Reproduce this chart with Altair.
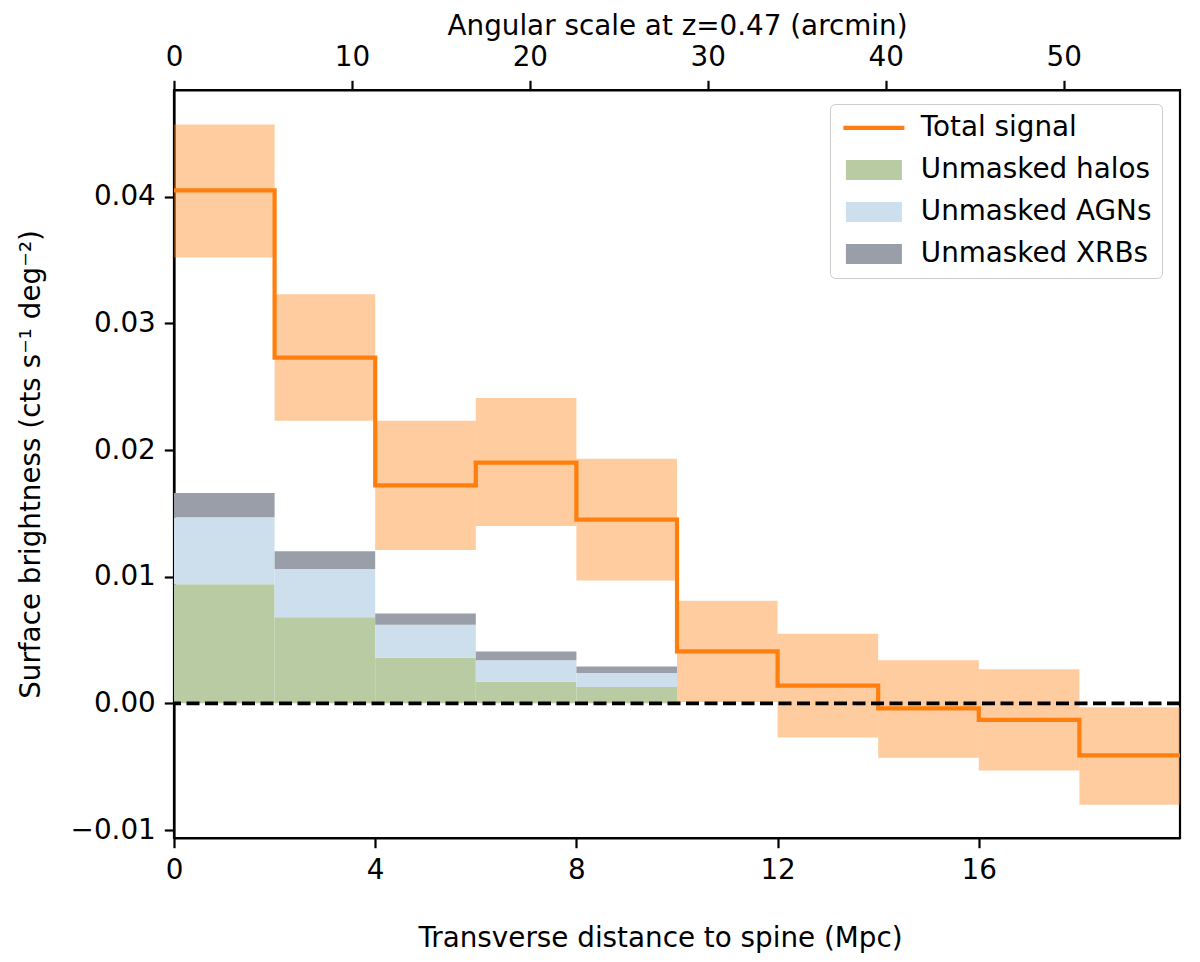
import altair as alt
import pandas as pd

# bins in transverse distance (Mpc)
bin_lo = [0, 2, 4, 6, 8, 10, 12, 14, 16, 18]
bin_hi = [2, 4, 6, 8, 10, 12, 14, 16, 18, 20]

# total signal and its 1-sigma band
total = [0.0405, 0.0273, 0.0172, 0.0190, 0.0145, 0.0041, 0.0014, -0.0004, -0.0013, -0.0041]
total_lo = [0.0352, 0.0223, 0.0121, 0.0140, 0.0097, 0.0001, -0.0027, -0.0043, -0.0053, -0.0080]
total_hi = [0.0457, 0.0323, 0.0223, 0.0241, 0.0193, 0.0081, 0.0055, 0.0034, 0.0027, -0.0003]

# stacked contributions of unmasked sources
halos = [0.0094, 0.0068, 0.0036, 0.0017, 0.0013, 0, 0, 0, 0, 0]
agns = [0.0053, 0.0038, 0.0026, 0.0017, 0.0011, 0, 0, 0, 0, 0]
xrbs = [0.0019, 0.0014, 0.0009, 0.0007, 0.0005, 0, 0, 0, 0, 0]

arcmin_per_mpc = 2.827
top_ticks = [0, 10, 20, 30, 40, 50]
x_ticks = [0, 4, 8, 12, 16]
y_ticks = [-0.01, 0.0, 0.01, 0.02, 0.03, 0.04]
zero_level = [0.0]

series = ["Total signal", "Unmasked halos", "Unmasked AGNs", "Unmasked XRBs"]
colors = ["#ff7f0e", "#b8cba3", "#cddfec", "#9a9ea9"]
shapes = [
    "M-3.05,-0.21H3.05V0.21H-3.05Z",
    "M-2.8,-1H2.8V1H-2.8Z",
    "M-2.8,-1H2.8V1H-2.8Z",
    "M-2.8,-1H2.8V1H-2.8Z",
]

FS = 27.8
X_MAX = 20
Y_DOM = [-0.01063, 0.04842]

band_df = pd.DataFrame({"lo": bin_lo, "hi": bin_hi, "ylo": total_lo, "yhi": total_hi})
line_df = pd.DataFrame({"x": bin_lo + [X_MAX], "y": total + [total[-1]]})

rows = []
for i in range(len(bin_lo)):
    base = 0.0
    for name, vals in zip(series[1:], [halos, agns, xrbs]):
        rows.append({"lo": bin_lo[i], "hi": bin_hi[i], "series": name,
                     "y0": base, "y1": base + vals[i]})
        base += vals[i]
comp_df = pd.DataFrame(rows)

xs = alt.Scale(domain=[0, X_MAX], nice=False, zero=False)
ys = alt.Scale(domain=Y_DOM, nice=False, zero=False)

x_axis = alt.Axis(values=x_ticks, format="d", title="Transverse distance to spine (Mpc)",
                  titlePadding=40, titleX=486)
y_axis = alt.Axis(values=y_ticks, title="Surface brightness (cts s\u207b\u00b9 deg\u207b\u00b2)",
                  labelExpr="replace(format(datum.value, '.2f'), '-', '\u2212')",
                  titlePadding=25)

bands = alt.Chart(band_df).mark_rect(color="#ff7f0e", opacity=0.4).encode(
    x=alt.X("lo:Q", scale=xs, axis=x_axis),
    x2="hi:Q",
    y=alt.Y("ylo:Q", scale=ys, axis=y_axis),
    y2="yhi:Q",
)

comps = alt.Chart(comp_df).mark_rect().encode(
    x=alt.X("lo:Q", scale=xs),
    x2="hi:Q",
    y=alt.Y("y0:Q", scale=ys),
    y2="y1:Q",
    color=alt.Color("series:N", scale=alt.Scale(domain=series[1:], range=colors[1:]), legend=None),
)

step = alt.Chart(line_df).mark_line(
    interpolate="step-after", color="#ff7f0e", strokeWidth=4.2, strokeJoin="miter"
).encode(
    x=alt.X("x:Q", scale=xs),
    y=alt.Y("y:Q", scale=ys),
)

zero = alt.Chart(pd.DataFrame({"y": zero_level})).mark_rule(
    color="black", strokeWidth=3.6, strokeDash=[13, 5.5]
).encode(y=alt.Y("y:Q", scale=ys))

# invisible points that only carry the legend
legend_pts = alt.Chart(pd.DataFrame({"series": series})).mark_point(filled=True, opacity=1).encode(
    fill=alt.Fill("series:N", scale=alt.Scale(domain=series, range=colors),
                  legend=alt.Legend(title=None, orient="none", legendX=656, legendY=14,
                                    symbolSize=400, symbolOffset=20, symbolStrokeWidth=0,
                                    symbolOpacity=1, labelOffset=33, labelFontSize=FS,
                                    labelLimit=0, rowPadding=13, padding=10,
                                    strokeColor="#cccccc", fillColor="white",
                                    cornerRadius=5)),
    shape=alt.Shape("series:N", scale=alt.Scale(domain=series, range=shapes)),
    opacity=alt.Opacity("series:N", scale=alt.Scale(range=[0, 0]), legend=None),
)

main = alt.layer(bands, comps, step, zero, legend_pts)

top = alt.Chart(pd.DataFrame({"arcmin": top_ticks})).mark_point(opacity=0).encode(
    x=alt.X("arcmin:Q",
            scale=alt.Scale(domain=[0, X_MAX * arcmin_per_mpc], nice=False, zero=False),
            axis=alt.Axis(orient="top", values=top_ticks, format="d",
                          title="Angular scale at z=0.47 (arcmin)", titlePadding=3)),
)

chart = (
    alt.layer(main, top)
    .resolve_scale(x="independent")
    .properties(
        width=1006,
        height=748,
        autosize=alt.AutoSizeParams(type="none"),
        padding={"left": 166, "top": 82, "right": 12, "bottom": 116},
    )
    .configure(font="DejaVu Sans")
    .configure_view(stroke="black", strokeWidth=2.2)
    .configure_axis(
        grid=False,
        labelFlush=False,
        domainColor="black",
        domainWidth=2.2,
        tickColor="black",
        tickWidth=2.2,
        tickSize=9.7,
        labelPadding=9,
        labelFontSize=FS,
        labelColor="black",
        labelFont="DejaVu Sans",
        titleFont="DejaVu Sans",
        titleFontSize=FS,
        titleFontWeight="normal",
        titleColor="black",
    )
    .configure_legend(labelFont="DejaVu Sans", labelColor="black")
)

chart.save("out.html", embed_options={"renderer": "svg", "actions": False})
